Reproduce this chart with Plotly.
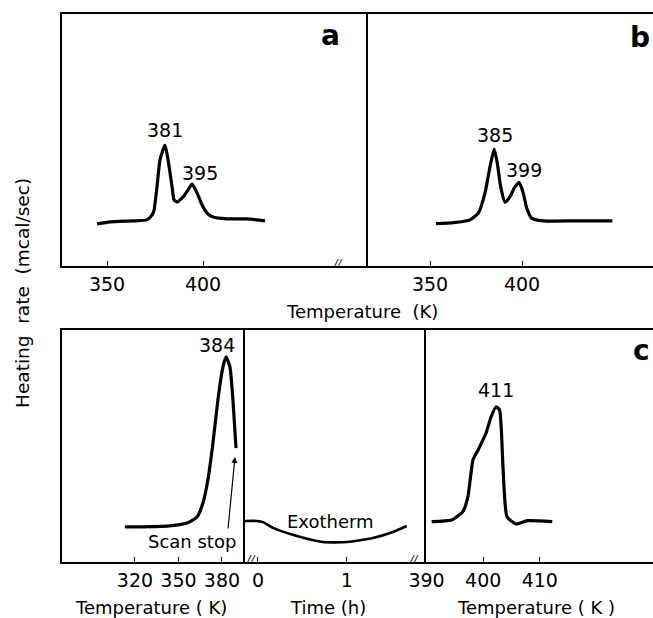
import plotly.graph_objects as go

W, H = 653, 618

# ---------------- data ----------------
a_T = [344.8, 351.6, 363.5, 370.8, 373.4, 374.5, 376.0, 377.6, 380.2, 381.8, 383.9, 384.9,
       386.5, 389.6, 392.2, 394.3, 396.9, 399.5, 402.1, 405.2, 412.5, 422.9, 432.3]
a_Q = [16.7, 17.5, 17.9, 18.3, 20.2, 22.2, 31.3, 42.1, 48.0, 42.1, 31.3, 26.2,
       25.4, 27.4, 30.2, 32.5, 29.0, 24.2, 21.0, 19.4, 18.7, 18.7, 17.9]

b_T = [353.3, 362.7, 371.7, 376.3, 379.9, 382.6, 384.9, 386.6, 388.4, 390.8, 393.5, 396.2,
       398.5, 400.7, 402.6, 405.3, 411.6, 429.7, 449.1]
b_Q = [16.8, 17.2, 18.3, 21.0, 29.0, 39.4, 46.4, 40.7, 31.5, 25.3, 27.5, 31.5,
       33.1, 28.9, 22.9, 18.9, 17.9, 17.9, 17.9]

c1_T = [313.1, 342.1, 355.9, 362.8, 366.9, 370.3, 373.8, 377.2, 380.7, 382.8, 385.5, 387.6, 389.7]
c1_Q = [15.1, 15.5, 16.8, 19.4, 25.4, 35.3, 51.3, 69.8, 84.1, 88.4, 84.1, 69.8, 49.1]

c2_t = [-0.146, -0.011, 0.056, 0.169, 0.438, 0.730, 1.0, 1.292, 1.517, 1.674]
c2_Q = [17.7, 17.7, 17.2, 14.7, 11.2, 8.6, 8.6, 10.3, 12.9, 15.5]

c3_T = [390.9, 394.4, 396.4, 397.3, 398.2, 399.1, 400.5, 401.4, 402.3, 402.9, 403.5, 404.2,
        405.8, 407.8, 412.2]
c3_Q = [17.4, 18.1, 21.7, 28.1, 44.0, 48.3, 55.5, 62.6, 66.9, 65.5, 41.1, 19.5,
        16.4, 17.8, 17.4]

top_ticks = [350, 400]
c1_ticks = [320, 350, 380]
c2_ticks = [0, 1]
c3_ticks = [390, 400, 410]

peak_labels = [("x", "y", 380.2, 54, "381"), ("x", "y", 398.5, 37, "395"),
               ("x2", "y2", 385.3, 52, "385"), ("x2", "y2", 401.0, 38, "399"),
               ("x3", "y3", 376.6, 93.5, "384"), ("x5", "y5", 402.3, 74.1, "411")]

# ---------------- helpers ----------------
FONT = "DejaVu Sans"
def px(x):
    return x / W
def py(y):
    return 1 - y / H

fig = go.Figure()
line = dict(color="black", width=3.2, shape="spline", smoothing=0.5)
fig.add_trace(go.Scatter(x=a_T, y=a_Q, mode="lines", line=line, xaxis="x", yaxis="y"))
fig.add_trace(go.Scatter(x=b_T, y=b_Q, mode="lines", line=line, xaxis="x2", yaxis="y2"))
fig.add_trace(go.Scatter(x=c1_T, y=c1_Q, mode="lines", line=line, xaxis="x3", yaxis="y3"))
fig.add_trace(go.Scatter(x=c2_t, y=c2_Q, mode="lines",
                         line=dict(color="black", width=2.6, shape="spline", smoothing=0.5),
                         xaxis="x4", yaxis="y4"))
fig.add_trace(go.Scatter(x=c3_T, y=c3_Q, mode="lines", line=line, xaxis="x5", yaxis="y5"))

def xax(dom, rng, ticks, anchor, mirror=True, ticktext=None):
    return dict(domain=[px(dom[0]), px(dom[1])], range=rng, tickvals=ticks,
                ticktext=ticktext if ticktext else [str(t) for t in ticks],
                ticks="inside", ticklen=5, tickwidth=1.2, tickcolor="black",
                showline=True, linecolor="black", linewidth=1.6, mirror=mirror,
                showgrid=False, zeroline=False, anchor=anchor, automargin=False,
                tickfont=dict(family=FONT, size=19, color="black"))

def yax(dom, anchor):
    return dict(domain=[py(dom[1]), py(dom[0])], range=[0, 100], showticklabels=False,
                ticks="", showline=True, linecolor="black", linewidth=1.6,
                showgrid=False, zeroline=False, anchor=anchor, automargin=False)

layout = dict(width=W, height=H, margin=dict(l=0, r=0, t=0, b=0, autoexpand=False),
              paper_bgcolor="white", plot_bgcolor="white", showlegend=False)

layout["xaxis"] = xax((62, 368), [326.56, 485.9], top_ticks, "y")
layout["yaxis"] = yax((14, 266), "x")
layout["xaxis2"] = xax((368, 653), [316.3, 471.2], top_ticks, "y2")
layout["yaxis2"] = yax((14, 266), "x2")
layout["xaxis3"] = xax((62, 245), [269.7, 395.9], c1_ticks, "y3")
layout["yaxis3"] = yax((330, 562), "x3")
layout["xaxis4"] = xax((245, 426), [-0.146, 1.89], c2_ticks, "y4")
layout["yaxis4"] = yax((330, 562), "x4")
layout["xaxis5"] = xax((426, 653), [389.9, 430.0], c3_ticks, "y5")
layout["yaxis5"] = yax((330, 562), "x5")
fig.update_layout(**layout)

ann = []
for xr, yr, x, y, t in peak_labels:
    ann.append(dict(x=x, y=y, xref=xr, yref=yr, text=t, showarrow=False,
                    font=dict(family=FONT, size=19, color="black")))

def ptext(x, y, t, size=17, angle=0, bold=False):
    ann.append(dict(x=px(x), y=py(y), xref="paper", yref="paper", text=("<b>%s</b>" % t) if bold else t,
                    showarrow=False, textangle=angle, xanchor="center", yanchor="middle",
                    font=dict(family=FONT, size=size, color="black")))

ptext(330, 35, "a", 28, bold=True)
ptext(640, 37, "b", 28, bold=True)
ptext(641, 350, "c", 28, bold=True)
ptext(362, 311, "Temperature&nbsp;&nbsp;(K)", 18)
ptext(151, 607, "Temperature ( K)", 18)
ptext(328, 607, "Time (h)", 18)
ptext(536, 607, "Temperature ( K )", 18)
ptext(22, 293, "Heating&nbsp;&nbsp;rate&nbsp;&nbsp;(mcal/sec)", 18.5, angle=-90)
ptext(192, 541, "Scan stop", 18)
ptext(330, 521, "Exotherm", 18)
for bx, by in [(338, 263), (251, 559), (414, 559)]:
    ptext(bx, by, "<i>//</i>", 11)

# arrow for scan stop
ann.append(dict(x=389.0, y=45.3, xref="x3", yref="y3", ax=384.1, ay=13.8, axref="x3", ayref="y3",
                text="", showarrow=True, arrowhead=2, arrowsize=1, arrowwidth=1.2, arrowcolor="black"))
fig.update_layout(annotations=ann)

fig.write_html("out.html")
